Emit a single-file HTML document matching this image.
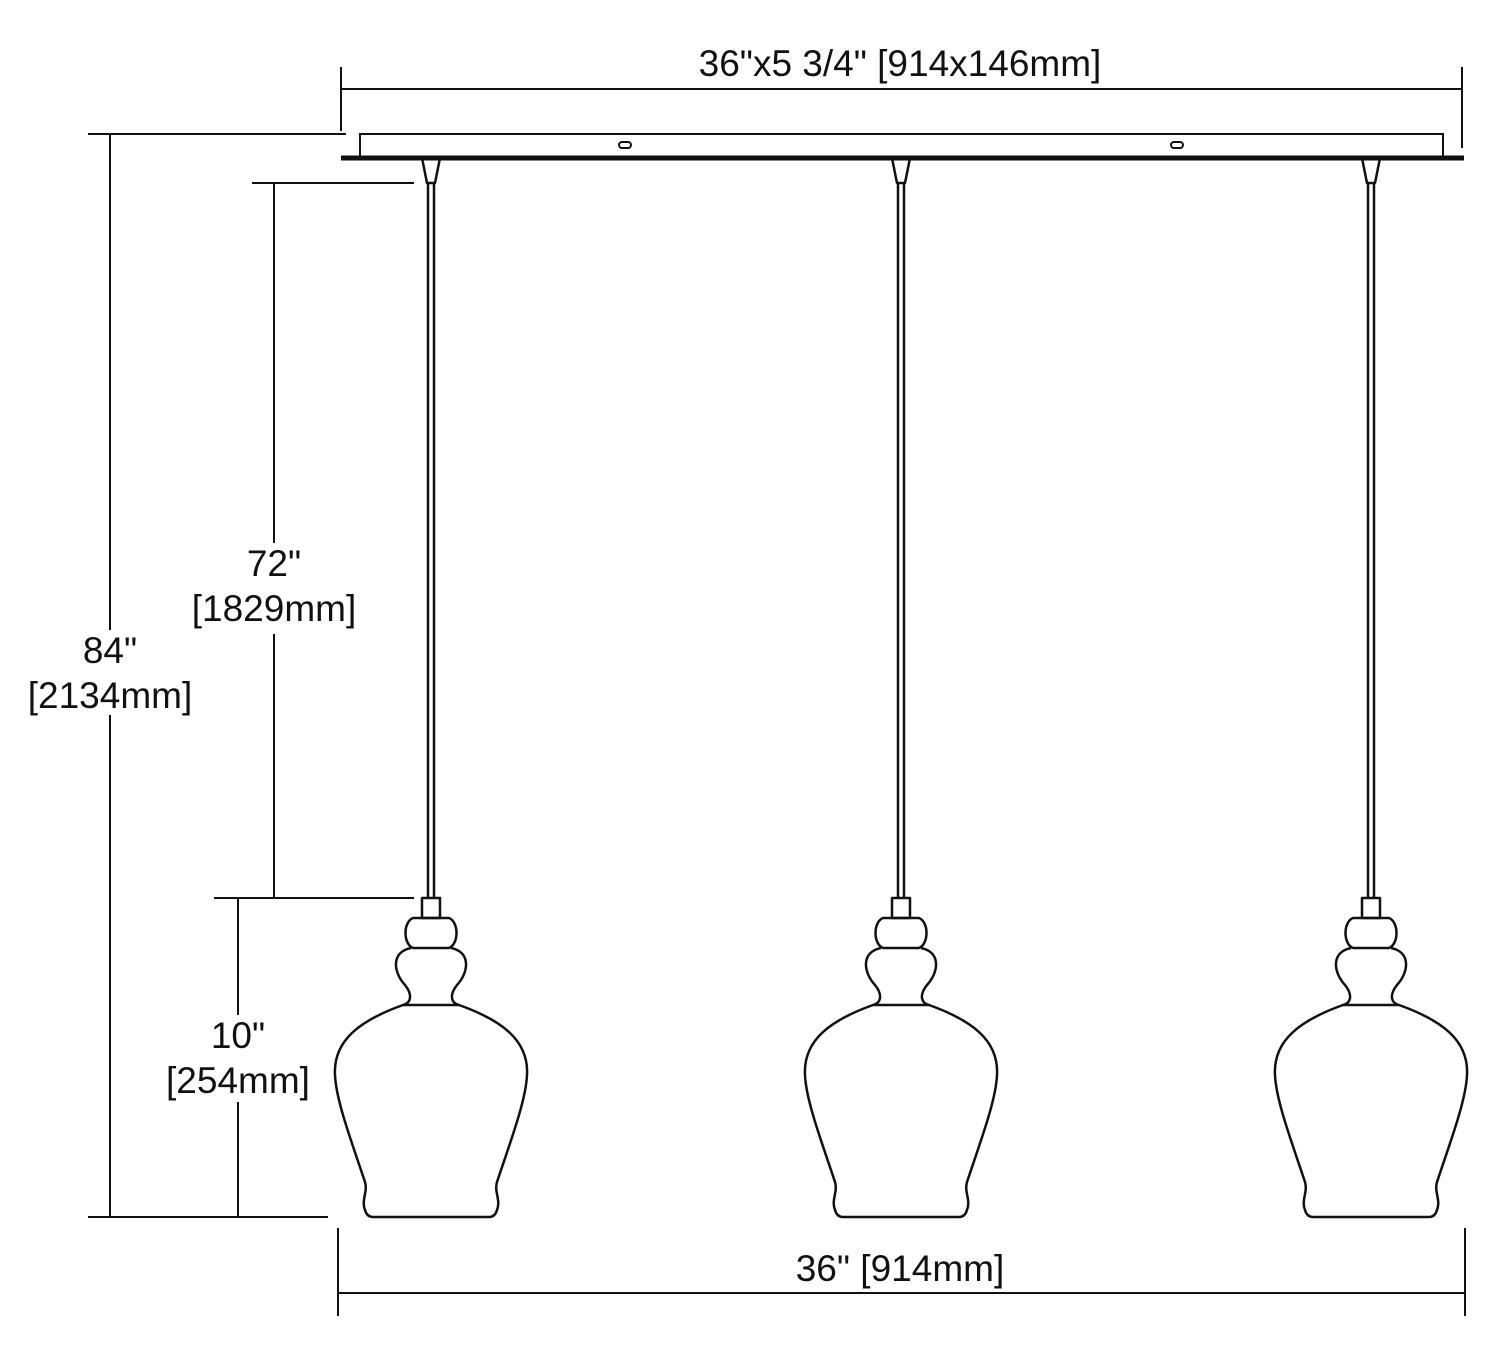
<!DOCTYPE html>
<html><head><meta charset="utf-8"><style>
html,body{margin:0;padding:0;background:#fff;}
svg{display:block;}
text{font-family:"Liberation Sans",Arial,sans-serif;font-size:37px;fill:#111;text-anchor:middle;}
</style></head><body>
<svg width="1500" height="1367" viewBox="0 0 1500 1367" xmlns="http://www.w3.org/2000/svg">
<defs>
<g id="p" fill="none" stroke="#111" stroke-width="2.5" stroke-linejoin="round">
  <path d="M-9,158 L-4,183 L4,183 L9,158" />
  <line x1="-3" y1="183" x2="-3" y2="898"/>
  <line x1="3" y1="183" x2="3" y2="898"/>
  <rect x="-9" y="898" width="18" height="20"/>
  <path d="M-18,918 C-28,922 -28,944 -18,948 L18,948 C28,944 28,922 18,918 Z"/>
  <path d="M-20,948 C-40,952 -38,972 -26,985 C-18,995 -20,1003 -28,1005 L28,1005 C20,1003 18,995 26,985 C38,972 40,952 20,948"/>
  <path d="M-28,1005 C-70,1020 -98,1040 -96,1075 C-95,1100 -80,1140 -66,1182 C-63,1192 -70,1200 -66,1210 Q-64,1217 -58,1217 L58,1217 Q64,1217 66,1210 C70,1200 63,1192 66,1182 C80,1140 95,1100 96,1075 C98,1040 70,1020 28,1005"/>
</g>
</defs>
<g stroke="#111" stroke-width="2" fill="none">
  <line x1="341" y1="67" x2="341" y2="131"/>
  <line x1="1462" y1="67" x2="1462" y2="148"/>
  <line x1="341" y1="89" x2="1462" y2="89"/>
  <rect x="360" y="134" width="1083" height="24"/>
  <rect x="619" y="142" width="12" height="6" rx="3"/>
  <rect x="1171" y="142" width="12" height="6" rx="3"/>
  <line x1="88" y1="134" x2="346" y2="134"/>
  <line x1="88" y1="1217" x2="328" y2="1217"/>
  <line x1="110" y1="134" x2="110" y2="630"/>
  <line x1="110" y1="715" x2="110" y2="1217"/>
  <line x1="252" y1="183" x2="414" y2="183"/>
  <line x1="214" y1="898" x2="414" y2="898"/>
  <line x1="274" y1="183" x2="274" y2="543"/>
  <line x1="274" y1="634" x2="274" y2="898"/>
  <line x1="238" y1="898" x2="238" y2="1015"/>
  <line x1="238" y1="1102" x2="238" y2="1217"/>
  <line x1="338" y1="1228" x2="338" y2="1316"/>
  <line x1="1465" y1="1228" x2="1465" y2="1316"/>
  <line x1="338" y1="1293" x2="1465" y2="1293"/>
</g>
<line x1="341" y1="158" x2="1464" y2="158" stroke="#111" stroke-width="5"/>
<use href="#p" transform="translate(431,0)"/>
<use href="#p" transform="translate(901,0)"/>
<use href="#p" transform="translate(1371,0)"/>
<text x="900" y="76">36"x5 3/4" [914x146mm]</text>
<text x="274" y="576">72"</text>
<text x="274" y="621">[1829mm]</text>
<text x="110" y="663">84"</text>
<text x="110" y="708">[2134mm]</text>
<text x="238" y="1048">10"</text>
<text x="238" y="1093">[254mm]</text>
<text x="900" y="1281">36" [914mm]</text>
</svg>
</body></html>
